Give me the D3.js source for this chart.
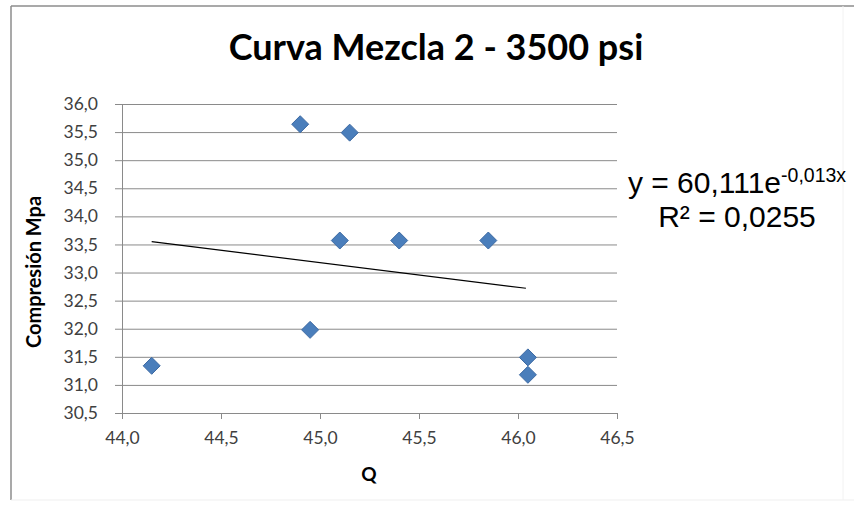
<!DOCTYPE html>
<html>
<head>
<meta charset="utf-8">
<script src="https://cdn.jsdelivr.net/npm/d3@7"></script>
<style>
  html, body { margin: 0; padding: 0; background: #fff; }
  svg { display: block; }
</style>
</head>
<body>
<div id="chart"></div>
<script>
// Datos
const qValues = [44.15, 44.9, 45.15, 44.95, 45.1, 45.4, 45.85, 46.05, 46.05];
const compValues = [31.34, 35.64, 35.49, 31.98, 33.57, 33.57, 33.57, 31.49, 31.18];
const trendX = [44.15, 46.04];
const trendY = [33.55, 32.72];
const xTicks = [44.0, 44.5, 45.0, 45.5, 46.0, 46.5];
const yTicks = [30.5, 31.0, 31.5, 32.0, 32.5, 33.0, 33.5, 34.0, 34.5, 35.0, 35.5, 36.0];

const width = 854, height = 506;
const plot = { left: 122, right: 617, top: 104, bottom: 413 };
const fmt = v => d3.format(".1f")(v).replace(".", ",");

const svg = d3.select("#chart").append("svg")
  .attr("width", width)
  .attr("height", height);

// Marco del gráfico
svg.append("line").attr("x1", 11).attr("y1", 6).attr("x2", 11).attr("y2", 500)
  .style("stroke", "#8c8c8c").style("stroke-width", 1.5);
svg.append("line").attr("x1", 11).attr("y1", 6).attr("x2", 854).attr("y2", 6)
  .style("stroke", "#8c8c8c").style("stroke-width", 1.5);
svg.append("line").attr("x1", 11).attr("y1", 500).attr("x2", 854).attr("y2", 500)
  .style("stroke", "#efefef");
svg.append("line").attr("x1", 843).attr("y1", 6).attr("x2", 843).attr("y2", 500)
  .style("stroke", "#f2f2f2");

const x = d3.scaleLinear().domain([44.0, 46.5]).range([plot.left, plot.right]);
const y = d3.scaleLinear().domain([30.5, 36.0]).range([plot.bottom, plot.top]);

// Líneas de cuadrícula horizontales
svg.append("g")
  .attr("transform", `translate(${plot.left},0)`)
  .call(d3.axisLeft(y).tickValues(yTicks).tickSize(-(plot.right - plot.left)).tickFormat(""))
  .call(g => g.select(".domain").remove())
  .call(g => g.selectAll("line").style("stroke", "#8a8a8a").style("stroke-width", 1));

// Eje Y
const yAxis = svg.append("g")
  .attr("transform", `translate(${plot.left},0)`)
  .call(d3.axisLeft(y).tickValues(yTicks).tickSize(7).tickPadding(17).tickFormat(fmt));
yAxis.select(".domain").style("stroke", "#8a8a8a").style("stroke-width", 1);
yAxis.selectAll("line").style("stroke", "#8a8a8a");
yAxis.selectAll("text")
  .style("font-family", "Lato, 'Open Sans', sans-serif")
  .style("font-size", "17.5px")
  .style("fill", "#404040");

// Eje X
const xAxis = svg.append("g")
  .attr("transform", `translate(0,${plot.bottom})`)
  .call(d3.axisBottom(x).tickValues(xTicks).tickSize(6).tickPadding(13).tickFormat(fmt));
xAxis.select(".domain").style("stroke", "#8a8a8a").style("stroke-width", 1);
xAxis.selectAll("line").style("stroke", "#8a8a8a");
xAxis.selectAll("text")
  .style("font-family", "Lato, 'Open Sans', sans-serif")
  .style("font-size", "17.5px")
  .style("fill", "#404040");

// Línea de tendencia
svg.append("path")
  .datum(d3.zip(trendX, trendY))
  .attr("d", d3.line().x(d => x(d[0])).y(d => y(d[1])))
  .style("fill", "none")
  .style("stroke", "#000")
  .style("stroke-width", 1.2);

// Puntos (rombos)
const diamond = r => `M0,${-r}L${r},0L0,${r}L${-r},0Z`;
svg.append("g").selectAll("path")
  .data(d3.zip(qValues, compValues))
  .enter()
  .append("path")
  .attr("transform", d => `translate(${x(d[0])},${y(d[1])})`)
  .attr("d", diamond(8.5))
  .style("fill", "#4a7ebb")
  .style("stroke", "#3d6aa3")
  .style("stroke-width", 1);

// Título
svg.append("text")
  .attr("x", 436)
  .attr("y", 60)
  .attr("text-anchor", "middle")
  .style("font-family", "Lato, 'Open Sans', sans-serif")
  .style("font-weight", "bold")
  .style("font-size", "36px")
  .style("fill", "#000")
  .text("Curva Mezcla 2 - 3500 psi");

// Títulos de ejes
svg.append("text")
  .attr("x", 369)
  .attr("y", 481)
  .attr("text-anchor", "middle")
  .style("font-family", "Lato, 'Open Sans', sans-serif")
  .style("font-weight", "bold")
  .style("font-size", "19px")
  .style("fill", "#000")
  .text("Q");

svg.append("text")
  .attr("transform", "translate(41,272) rotate(-90)")
  .attr("text-anchor", "middle")
  .style("font-family", "Lato, 'Open Sans', sans-serif")
  .style("font-weight", "bold")
  .style("font-size", "20px")
  .style("fill", "#000")
  .text("Compresión Mpa");

// Ecuación de la tendencia
const eq = svg.append("text")
  .attr("x", 737)
  .attr("y", 193)
  .attr("text-anchor", "middle")
  .style("font-family", "'Liberation Sans', Arial, sans-serif")
  .style("font-size", "30px")
  .style("fill", "#000");
eq.append("tspan").text("y = 60,111e");
eq.append("tspan").attr("dy", -11).style("font-size", "19.5px").text("-0,013x");

svg.append("text")
  .attr("x", 737)
  .attr("y", 227)
  .attr("text-anchor", "middle")
  .style("font-family", "'Liberation Sans', Arial, sans-serif")
  .style("font-size", "30px")
  .style("fill", "#000")
  .text("R² = 0,0255");
</script>
</body>
</html>
